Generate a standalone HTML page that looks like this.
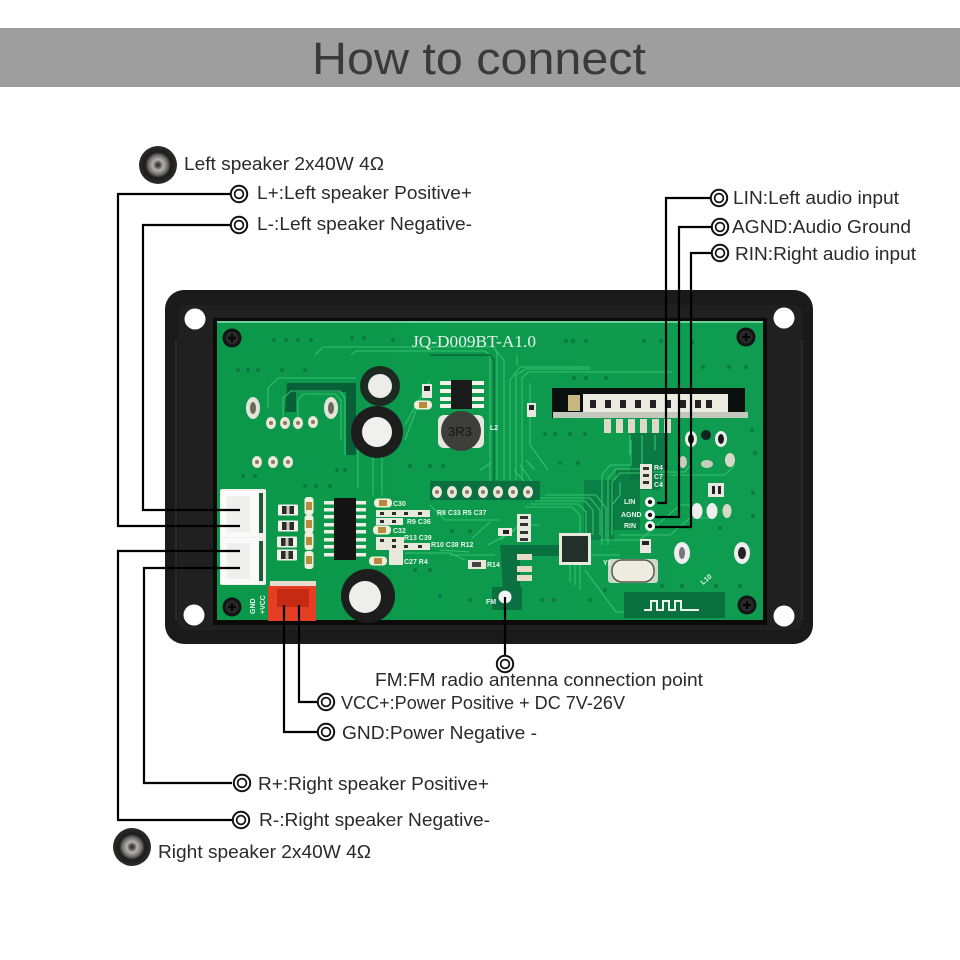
<!DOCTYPE html>
<html><head><meta charset="utf-8">
<style>
html,body{margin:0;padding:0;background:#fff;width:960px;height:960px;overflow:hidden}
svg{display:block}
.l{font-family:"Liberation Sans",sans-serif;font-size:18.5px;fill:#2a2a2a}
.s{font-family:"Liberation Sans",sans-serif;font-size:7px;fill:#e8f5ec;font-weight:bold}
.w{stroke:#000;stroke-width:2.2;fill:none}
.t{stroke:#35c070;stroke-width:1.1;fill:none}
.d{stroke:#08683c;stroke-width:1.4;fill:none}
</style></head><body>
<svg width="960" height="960" viewBox="0 0 960 960" xmlns="http://www.w3.org/2000/svg">
<defs>
<radialGradient id="spk" cx="50%" cy="50%" r="50%">
<stop offset="0" stop-color="#2a2622"/><stop offset=".12" stop-color="#57524b"/><stop offset=".28" stop-color="#b4b4b0"/><stop offset=".52" stop-color="#6c6a66"/><stop offset=".68" stop-color="#1c1c1c"/><stop offset="1" stop-color="#2c2c2c"/>
</radialGradient>
<linearGradient id="pcb" x1="0" y1="0" x2="1" y2="0"><stop offset="0" stop-color="#0b984a"/><stop offset="1" stop-color="#0f9c50"/></linearGradient>
<g id="screw"><circle r="9.5" fill="#141414"/><circle r="6.5" fill="#2a2a2a"/><path d="M-4 0H4M0 -4V4" stroke="#050505" stroke-width="2.2"/></g>
<g id="ring"><circle r="8.2" fill="#fff" stroke="#111" stroke-width="2"/><circle r="4.4" fill="#fff" stroke="#111" stroke-width="1.7"/></g>
<g id="smd"><rect x="-10" y="-5.5" width="20" height="11" rx="1" fill="#f2f2ea"/><rect x="-6" y="-4" width="12" height="8" fill="#2c2c28"/><rect x="-1.5" y="-4" width="3" height="8" fill="#c8c8c0"/></g>
<g id="cer"><rect x="-4.5" y="-9" width="9" height="18" rx="3" fill="#eeeeda"/><rect x="-3" y="-4" width="6" height="8" fill="#b88a3e"/></g>
<g id="ch"><rect x="-9" y="-4.5" width="18" height="9" rx="4" fill="#eeeeda"/><rect x="-4" y="-3" width="8" height="6" fill="#b88a3e"/></g>
<g id="pad"><ellipse rx="5" ry="6" fill="#eae6dc"/><circle r="2" fill="#8a7a5a"/></g>
</defs>

<rect width="960" height="960" fill="#fff"/>
<rect x="0" y="28" width="960" height="59" fill="#9e9e9e"/>
<text x="312" y="74" textLength="334" lengthAdjust="spacingAndGlyphs" font-family="'Liberation Sans',sans-serif" font-size="45" fill="#3a3a3a">How to connect</text>

<!-- frame -->
<rect x="165" y="290" width="648" height="354" rx="19" fill="#1a1a1a"/>
<rect x="178" y="305" width="624" height="325" rx="8" fill="#202020"/>
<path d="M176 340V620M802 340V620" stroke="#2a2a2a" stroke-width="2"/>
<rect x="213" y="318" width="554" height="307" fill="#0a0a0a"/>
<circle cx="195" cy="319" r="10.5" fill="#fff"/><circle cx="784" cy="318" r="10.5" fill="#fff"/>
<circle cx="194" cy="615" r="10.5" fill="#fff"/><circle cx="784" cy="616" r="10.5" fill="#fff"/>

<!-- pcb -->
<rect x="217" y="321" width="546" height="299" fill="url(#pcb)"/>
<rect x="217" y="321" width="546" height="2" fill="#6ecf95"/>
<!-- dark zones -->
<path d="M287 383H356V455H346V392H296V412H285Z" fill="#086038"/>
<path d="M630 433H668V470H640V480H630Z" fill="#0a7040" opacity=".8"/>
<path d="M616 470H660V490H640V530H610V480H616Z" fill="#0a7040" opacity=".7"/>
<rect x="584" y="480" width="30" height="60" fill="#0a7040" opacity=".6"/>
<path d="M500 545H560V556H520V590H503Z" fill="#0a7040"/>

<!-- traces -->
<path class="t" d="M315 355L323 347H490Q497 347 497 355V480" />
<path class="t" d="M351 355L356 351H482Q490 351 490 360V482"/>
<path class="d" d="M430 355H490L494 360V482"/>
<path class="t" d="M268 408V388L278 378H356"/>
<path class="t" d="M283 418V398L291 391H340L345 398V455"/>
<path class="t" d="M298 418V400L303 394H335L341 400V440"/>
<path class="t" d="M358 450V488M382 456V495M373 456V495"/>
<path class="t" d="M420 400L405 440M430 380L405 425"/>
<path class="t" d="M480 470L492 462"/>
<path class="t" d="M510 480V380L520 367H590"/><path class="t" d="M516 480V375L526 369H590"/><path class="t" d="M522 480V378L528 372H672"/>
<path class="t" d="M504 480V360L495 350"/><path class="t" d="M517 355V365"/>
<path class="t" d="M530 383V445L548 470"/><path class="t" d="M514 470L532 490M520 465L534 485M526 460L535 470"/>
<path class="t" d="M540 498H590L600 510V535"/><path class="t" d="M535 501H585L593 510V535"/><path class="t" d="M530 504H578L586 512V535"/><path class="t" d="M525 507H572L580 515V535"/><path class="t" d="M545 495H596L606 508V540"/>
<path class="t" d="M602 545V475L610 465H631V440"/><path class="t" d="M608 545V478L616 469H642V440"/><path class="t" d="M612 530V482L620 473H640"/>
<path class="t" d="M620 482V495L612 505V535"/>
<path class="t" d="M600 540H640L680 505H700M620 535H670L690 518H710"/>
<path class="t" d="M653 472H685L690 465M670 475H725L735 465"/>
<path class="t" d="M585 570L616 612H630"/><path class="t" d="M575 565V585M570 565V582M580 565V590"/>
<path class="t" d="M590 555H620"/>
<path class="t" d="M450 555H495M440 550L470 552"/>
<path class="t" d="M472 538L490 522M515 530L488 545"/>
<path class="t" d="M430 505L445 520H500"/>
<path class="t" d="M500 540L520 525H540"/>
<path class="t" d="M405 553H450L465 560"/>

<!-- vias -->
<g fill="#0a7a42">
<circle cx="274" cy="340" r="2"/><circle cx="286" cy="340" r="2"/><circle cx="298" cy="340" r="2"/><circle cx="311" cy="340" r="2"/><circle cx="352" cy="338" r="2"/><circle cx="364" cy="338" r="2"/><circle cx="393" cy="340" r="2"/>
<circle cx="238" cy="370" r="2"/><circle cx="248" cy="370" r="2"/><circle cx="258" cy="370" r="2"/><circle cx="282" cy="370" r="2"/><circle cx="305" cy="370" r="2"/>
<circle cx="566" cy="341" r="2"/><circle cx="573" cy="341" r="2"/><circle cx="586" cy="341" r="2"/><circle cx="644" cy="341" r="2"/><circle cx="661" cy="341" r="2"/><circle cx="692" cy="342" r="2"/>
<circle cx="703" cy="367" r="2"/><circle cx="729" cy="367" r="2"/><circle cx="746" cy="367" r="2"/>
<circle cx="574" cy="378" r="2"/><circle cx="586" cy="378" r="2"/><circle cx="606" cy="378" r="2"/>
<circle cx="545" cy="434" r="2"/><circle cx="555" cy="434" r="2"/><circle cx="570" cy="434" r="2"/><circle cx="585" cy="434" r="2"/>
<circle cx="560" cy="463" r="2"/><circle cx="578" cy="463" r="2"/>
<circle cx="337" cy="470" r="2"/><circle cx="345" cy="470" r="2"/><circle cx="255" cy="476" r="2"/><circle cx="243" cy="476" r="2"/>
<circle cx="410" cy="466" r="2"/><circle cx="430" cy="466" r="2"/><circle cx="443" cy="466" r="2"/>
<circle cx="305" cy="486" r="2"/><circle cx="316" cy="486" r="2"/><circle cx="330" cy="486" r="2"/>
<circle cx="752" cy="430" r="2"/><circle cx="755" cy="453" r="2"/><circle cx="753" cy="493" r="2"/><circle cx="753" cy="516" r="2"/><circle cx="720" cy="528" r="2"/>
<circle cx="452" cy="531" r="2"/><circle cx="470" cy="531" r="2"/><circle cx="415" cy="570" r="2"/><circle cx="430" cy="570" r="2"/>
<circle cx="662" cy="586" r="2"/><circle cx="682" cy="586" r="2"/><circle cx="716" cy="586" r="2"/><circle cx="740" cy="586" r="2"/>
<circle cx="542" cy="600" r="2"/><circle cx="554" cy="600" r="2"/><circle cx="590" cy="600" r="2"/><circle cx="605" cy="590" r="2"/>
<circle cx="440" cy="596" r="2"/><circle cx="470" cy="600" r="2"/>
</g>

<!-- screws -->
<use href="#screw" x="232" y="338"/><use href="#screw" x="746" y="337"/><use href="#screw" x="232" y="607"/><use href="#screw" x="747" y="605"/>

<text x="412" y="347" textLength="124" lengthAdjust="spacingAndGlyphs" font-family="'Liberation Serif',serif" font-size="17" fill="#e8f4ec">JQ-D009BT-A1.0</text>

<!-- mounting pads -->
<ellipse cx="253" cy="408" rx="7" ry="11" fill="#e4e4dc"/><ellipse cx="253" cy="408" rx="3" ry="6" fill="#6a6a55"/>
<ellipse cx="331" cy="408" rx="7" ry="11" fill="#e4e4dc"/><ellipse cx="331" cy="408" rx="3" ry="6" fill="#6a6a55"/>
<use href="#pad" x="271" y="423"/><use href="#pad" x="285" y="423"/><use href="#pad" x="298" y="423"/><use href="#pad" x="313" y="422"/>
<use href="#pad" x="257" y="462"/><use href="#pad" x="273" y="462"/><use href="#pad" x="288" y="462"/>

<!-- caps -->
<circle cx="380" cy="386" r="20" fill="#1d2a22"/><circle cx="380" cy="386" r="12" fill="#ececea"/>
<circle cx="377" cy="432" r="26" fill="#1d1d1d"/><circle cx="377" cy="432" r="15" fill="#f0f0ee"/>
<circle cx="368" cy="596" r="27" fill="#1d1d1d"/><circle cx="365" cy="597" r="16" fill="#eeeeec"/>

<!-- inductor -->
<rect x="438" y="415" width="46" height="33" rx="6" fill="#e4e8e0"/>
<circle cx="461" cy="431" r="20" fill="#3e3e3a"/>
<text x="448" y="436" font-family="'Liberation Sans',sans-serif" font-size="13" fill="#151515">3R3</text>
<text x="490" y="430" class="s">L2</text>

<!-- small IC top -->
<g fill="#f2f2ea"><rect x="440" y="381" width="44" height="4"/><rect x="440" y="389" width="44" height="4"/><rect x="440" y="397" width="44" height="4"/><rect x="440" y="404" width="44" height="4"/></g>
<rect x="451" y="380" width="21" height="29" fill="#1a1a1a"/>
<use href="#ch" x="423" y="405"/>
<rect x="422" y="384" width="10" height="14" fill="#e8e8e0"/><rect x="424" y="386" width="6" height="5" fill="#222"/>

<!-- main IC -->
<g fill="#eeeeE4">
<rect x="324" y="501" width="42" height="3.5"/><rect x="324" y="508" width="42" height="3.5"/><rect x="324" y="515" width="42" height="3.5"/><rect x="324" y="523" width="42" height="3.5"/><rect x="324" y="530" width="42" height="3.5"/><rect x="324" y="538" width="42" height="3.5"/><rect x="324" y="545" width="42" height="3.5"/><rect x="324" y="553" width="42" height="3.5"/>
</g>
<rect x="334" y="498" width="22" height="62" fill="#141414"/>
<use href="#cer" x="309" y="506"/><use href="#cer" x="309" y="524"/><use href="#cer" x="309" y="541"/><use href="#cer" x="309" y="560"/>
<use href="#smd" x="288" y="510"/><use href="#smd" x="288" y="526"/><use href="#smd" x="287" y="542"/><use href="#smd" x="287" y="555"/>

<!-- right of IC passives -->
<use href="#ch" x="383" y="503"/>
<g fill="#e8e8dc">
<rect x="376" y="510" width="54" height="7"/><rect x="376" y="518" width="27" height="7"/>
<rect x="376" y="537" width="28" height="7"/><rect x="376" y="543" width="54" height="7"/><rect x="389" y="550" width="14" height="15"/>
</g>
<g fill="#2c2c28">
<rect x="380" y="512" width="4" height="3"/><rect x="392" y="512" width="4" height="3"/><rect x="404" y="512" width="4" height="3"/><rect x="418" y="512" width="4" height="3"/>
<rect x="380" y="520" width="4" height="3"/><rect x="392" y="520" width="4" height="3"/>
<rect x="380" y="539" width="4" height="3"/><rect x="392" y="539" width="4" height="3"/>
<rect x="392" y="545" width="4" height="3"/><rect x="404" y="545" width="4" height="3"/><rect x="418" y="545" width="4" height="3"/>
</g>
<use href="#ch" x="382" y="530"/>
<use href="#ch" x="378" y="561"/>
<text x="393" y="506" class="s">C30</text><text x="393" y="533" class="s">C32</text><text x="404" y="564" class="s">C27 R4</text>
<text x="407" y="524" class="s">R9 C36</text><text x="404" y="540" class="s">R13 C39</text><text x="431" y="547" class="s" font-size="6">R10 C38 R12</text>
<text x="437" y="515" class="s" font-size="6">R8 C33 R5 C37</text>
<rect x="468" y="560" width="18" height="9" fill="#e8e8dc"/><rect x="472" y="562" width="9" height="5" fill="#444"/>
<text x="487" y="567" class="s">R14</text>

<!-- header -->
<rect x="430" y="481" width="110" height="19" fill="#0a7040"/>
<g>
<use href="#pad" x="437" y="492"/><use href="#pad" x="452" y="492"/><use href="#pad" x="467" y="492"/><use href="#pad" x="483" y="492"/><use href="#pad" x="498" y="492"/><use href="#pad" x="513" y="492"/><use href="#pad" x="528" y="492"/>
</g>

<!-- speaker connectors -->
<rect x="220" y="489" width="46" height="96" rx="2" fill="#eeeeea"/>
<rect x="221" y="491" width="38" height="46" fill="#fafafa"/>
<rect x="221" y="538" width="38" height="46" fill="#fafafa"/>
<rect x="227" y="496" width="23" height="36" fill="#efefec"/>
<rect x="227" y="543" width="23" height="36" fill="#efefec"/>
<rect x="259" y="493" width="4" height="40" fill="#1c5a38"/>
<rect x="259" y="541" width="4" height="40" fill="#1c5a38"/>

<!-- power connector -->
<rect x="270" y="581" width="46" height="5" fill="#e8dcd0"/>
<rect x="268" y="586" width="48" height="35" fill="#e63e22"/>
<rect x="277" y="589" width="32" height="18" fill="#c42b12"/>
<text transform="translate(255 614) rotate(-90)" class="s">GND</text>
<text transform="translate(265 614) rotate(-90)" class="s">+VCC</text>

<!-- BT module -->
<rect x="552" y="388" width="193" height="30" fill="#090f0c"/>
<rect x="568" y="395" width="12" height="16" fill="#c9b680"/>
<rect x="583" y="394" width="145" height="18" fill="#ecebe2"/>
<rect x="553" y="412" width="195" height="6" fill="#c4c8bc"/>
<g fill="#222">
<rect x="590" y="400" width="6" height="8"/><rect x="605" y="400" width="6" height="8"/><rect x="620" y="400" width="6" height="8"/><rect x="635" y="400" width="6" height="8"/><rect x="650" y="400" width="6" height="8"/><rect x="665" y="400" width="6" height="8"/><rect x="680" y="400" width="6" height="8"/><rect x="695" y="400" width="6" height="8"/><rect x="706" y="400" width="6" height="8"/>
</g>
<g fill="#ddd8c8">
<rect x="604" y="419" width="7" height="14"/><rect x="616" y="419" width="7" height="14"/><rect x="628" y="419" width="7" height="14"/><rect x="640" y="419" width="7" height="14"/><rect x="652" y="419" width="7" height="14"/><rect x="664" y="419" width="7" height="14"/>
</g>
<path d="M630 435V455M642 435V452M655 435V450" stroke="#35c070" stroke-width="1.2"/>

<rect x="527" y="403" width="9" height="14" fill="#e8e8e0"/><rect x="529" y="405" width="5" height="5" fill="#222"/>

<!-- right pads -->
<ellipse cx="691" cy="439" rx="6" ry="8" fill="#eee"/><ellipse cx="691" cy="439" rx="3" ry="5" fill="#1a1a1a"/>
<ellipse cx="721" cy="439" rx="6" ry="8" fill="#eee"/><ellipse cx="721" cy="439" rx="3" ry="5" fill="#1a1a1a"/>
<circle cx="706" cy="435" r="5" fill="#122"/>
<ellipse cx="683" cy="462" rx="4" ry="6" fill="#c8ccbc"/><ellipse cx="707" cy="464" rx="6" ry="4" fill="#c8ccbc"/><ellipse cx="730" cy="460" rx="5" ry="7" fill="#d8d8c8"/>
<ellipse cx="697" cy="511" rx="5.5" ry="8" fill="#eee"/><ellipse cx="712" cy="511" rx="5.5" ry="8" fill="#eee"/><ellipse cx="727" cy="511" rx="4.5" ry="7" fill="#d8d8c8"/>
<rect x="708" y="483" width="16" height="14" fill="#e8e8e0"/><rect x="712" y="486" width="3" height="8" fill="#222"/><rect x="718" y="486" width="3" height="8" fill="#222"/>
<ellipse cx="682" cy="553" rx="8" ry="11" fill="#eee"/><ellipse cx="682" cy="553" rx="3" ry="6" fill="#777"/>
<ellipse cx="742" cy="553" rx="8" ry="11" fill="#eee"/><ellipse cx="742" cy="553" rx="4" ry="6" fill="#222"/>
<rect x="640" y="539" width="11" height="14" fill="#e8e8e0"/><rect x="642" y="541" width="7" height="4" fill="#222"/>

<rect x="640" y="464" width="12" height="25" fill="#e8e8dc"/><rect x="643" y="467" width="6" height="3" fill="#333"/><rect x="643" y="474" width="6" height="3" fill="#333"/><rect x="643" y="481" width="6" height="3" fill="#333"/>
<text x="654" y="470" class="s" font-size="6">R4</text><text x="654" y="479" class="s" font-size="6">C7</text><text x="654" y="487" class="s" font-size="6">C4</text>

<text x="624" y="504" class="s">LIN</text><text x="621" y="517" class="s">AGND</text><text x="624" y="528" class="s">RIN</text>
<circle cx="650" cy="502" r="5" fill="#fff"/><circle cx="650" cy="502" r="2.2" fill="#111"/>
<circle cx="650" cy="515" r="5" fill="#fff"/><circle cx="650" cy="515" r="2.2" fill="#111"/>
<circle cx="650" cy="526" r="5" fill="#fff"/><circle cx="650" cy="526" r="2.2" fill="#111"/>

<!-- chip area -->
<rect x="517" y="514" width="14" height="28" fill="#e8e8dc"/><rect x="520" y="516" width="8" height="3" fill="#333"/><rect x="520" y="523" width="8" height="3" fill="#333"/><rect x="520" y="531" width="8" height="3" fill="#333"/><rect x="520" y="538" width="8" height="3" fill="#333"/>
<rect x="498" y="528" width="14" height="8" fill="#e8e8dc"/><rect x="503" y="530" width="6" height="4" fill="#222"/>
<rect x="517" y="554" width="15" height="6" fill="#e8dcc8"/><rect x="517" y="566" width="15" height="6" fill="#e8dcc8"/><rect x="517" y="575" width="15" height="6" fill="#e8dcc8"/>
<rect x="559" y="533" width="32" height="32" fill="#e8e8dc"/>
<rect x="562" y="536" width="26" height="26" fill="#22302a"/>
<rect x="608" y="559" width="50" height="24" rx="3" fill="#d8dcd0" opacity=".95"/>
<rect x="612" y="560" width="42" height="22" rx="10" fill="#eeece0" stroke="#55584e" stroke-width="1.5"/>
<text x="603" y="565" class="s" font-size="6">Y1</text>

<!-- antenna -->
<rect x="624" y="592" width="101" height="26" fill="#0a7040"/>
<path d="M644 610H651V601H657V610H663V601H669V610H675V601H681V610H699" stroke="#e8f4ec" stroke-width="2" fill="none"/>
<text transform="translate(703 585) rotate(-40)" class="s" font-size="6">L10</text>
<rect x="492" y="587" width="30" height="23" fill="#0a7040"/>
<circle cx="505" cy="597" r="6.5" fill="#f4f4f4"/>
<text transform="translate(486 604)" class="s" font-size="6">FM</text>

<!-- wires -->
<path class="w" d="M230 194H118V526H240"/>
<path class="w" d="M230 225H143V510H240"/>
<path class="w" d="M232 783H144V568H240"/>
<path class="w" d="M232 820H118V551H240"/>
<path class="w" d="M284 605V732H317"/>
<path class="w" d="M299 605V702H317"/>
<path class="w" d="M505 597V655"/>
<path class="w" d="M710 198H666V503H657"/>
<path class="w" d="M711 227H679V517H655"/>
<path class="w" d="M711 253H691V527H655"/>

<!-- rings -->
<use href="#ring" x="239" y="194"/><use href="#ring" x="239" y="225"/>
<use href="#ring" x="719" y="198"/><use href="#ring" x="720" y="227"/><use href="#ring" x="720" y="253"/>
<use href="#ring" x="505" y="664"/>
<use href="#ring" x="326" y="702"/><use href="#ring" x="326" y="732"/>
<use href="#ring" x="242" y="783"/><use href="#ring" x="241" y="820"/>

<!-- speakers -->
<circle cx="158" cy="165" r="19" fill="url(#spk)"/>
<circle cx="132" cy="847" r="19" fill="url(#spk)"/>

<!-- labels -->
<text class="l" x="184" y="170" textLength="200" lengthAdjust="spacingAndGlyphs">Left speaker 2x40W 4Ω</text>
<text class="l" x="257" y="199" textLength="215" lengthAdjust="spacingAndGlyphs">L+:Left speaker Positive+</text>
<text class="l" x="257" y="230" textLength="215" lengthAdjust="spacingAndGlyphs">L-:Left speaker Negative-</text>
<text class="l" x="733" y="204" textLength="166" lengthAdjust="spacingAndGlyphs">LIN:Left audio input</text>
<text class="l" x="732" y="233" textLength="179" lengthAdjust="spacingAndGlyphs">AGND:Audio Ground</text>
<text class="l" x="735" y="260" textLength="181" lengthAdjust="spacingAndGlyphs">RIN:Right audio input</text>
<text class="l" x="375" y="686" textLength="328" lengthAdjust="spacingAndGlyphs">FM:FM radio antenna connection point</text>
<text class="l" x="341" y="709" textLength="284" lengthAdjust="spacingAndGlyphs">VCC+:Power Positive + DC 7V-26V</text>
<text class="l" x="342" y="739" textLength="195" lengthAdjust="spacingAndGlyphs">GND:Power Negative -</text>
<text class="l" x="258" y="790" textLength="231" lengthAdjust="spacingAndGlyphs">R+:Right speaker Positive+</text>
<text class="l" x="259" y="826" textLength="231" lengthAdjust="spacingAndGlyphs">R-:Right speaker Negative-</text>
<text class="l" x="158" y="858" textLength="213" lengthAdjust="spacingAndGlyphs">Right speaker 2x40W 4Ω</text>
</svg>
</body></html>
